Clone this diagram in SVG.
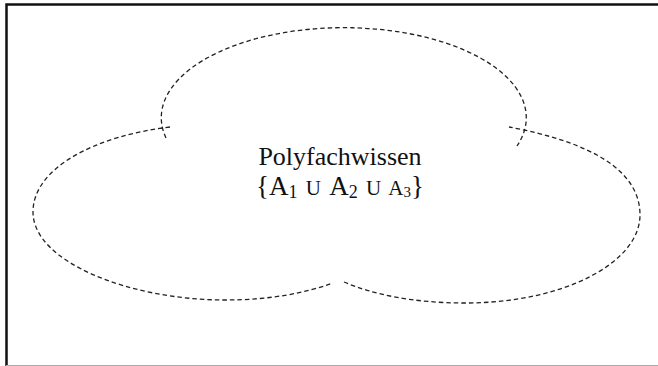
<svg xmlns="http://www.w3.org/2000/svg" width="658" height="366" viewBox="0 0 658 366">
<style>
.cloud{fill:none;stroke:#222;stroke-width:1.3;stroke-dasharray:4.5 3}
.t{font-family:"Liberation Serif","Times New Roman",serif;fill:#111;text-anchor:middle}
</style>
<rect x="0" y="0" width="658" height="366" fill="#fff"/>
<g id="frame">
<path d="M6.5,366 L6.5,4.5 L658,4.5" fill="none" stroke="#111" stroke-width="2.5"/>
<line x1="6" y1="365.5" x2="658" y2="365.5" stroke="#aaa" stroke-width="1"/>
</g>
<g id="cloud">
<path class="cloud" d="M166,138 A182.5 90 0 1 1 517,146"/>
<path class="cloud" d="M170,127 C95,136 33,168 33,212 C33,262 130,300 225,300 C270,300 305,293 333,283"/>
<path class="cloud" d="M344,282 C372,294 412,303 465,303 C565,303 640,262 640,215 C640,170 590,142 509,127"/>
</g>
<g id="label">
<text class="t" x="340" y="165" font-size="26">Polyfachwissen</text>
<text class="t" x="340" y="195" font-size="27" word-spacing="3">{A<tspan font-size="18" dy="3">1</tspan><tspan font-size="21" dy="-3"> U </tspan>A<tspan font-size="18" dy="3">2</tspan><tspan font-size="21" dy="-3"> U A</tspan><tspan font-size="15" dy="2">3</tspan><tspan dy="-2">}</tspan></text>
</g>
</svg>
